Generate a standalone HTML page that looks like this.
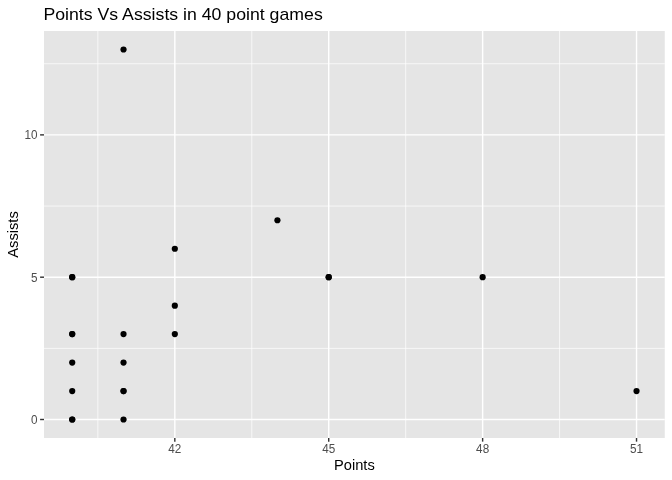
<!DOCTYPE html>
<html><head><meta charset="utf-8"><style>
html,body{margin:0;padding:0;background:#fff;width:672px;height:480px;overflow:hidden}
svg{display:block;will-change:transform;font-family:"Liberation Sans",sans-serif}
</style></head><body>
<svg width="672" height="480" viewBox="0 0 672 480">
<rect x="0" y="0" width="672" height="480" fill="#fff"/>
<rect x="44.0" y="31.0" width="620.75" height="407.00" fill="#E5E5E5"/>
<line x1="44.0" x2="664.75" y1="348.35" y2="348.35" stroke="#fff" stroke-width="0.71"/>
<line x1="44.0" x2="664.75" y1="206.04" y2="206.04" stroke="#fff" stroke-width="0.71"/>
<line x1="44.0" x2="664.75" y1="63.73" y2="63.73" stroke="#fff" stroke-width="0.71"/>
<line y1="31.0" y2="438.0" x1="97.87" x2="97.87" stroke="#fff" stroke-width="0.71"/>
<line y1="31.0" y2="438.0" x1="251.77" x2="251.77" stroke="#fff" stroke-width="0.71"/>
<line y1="31.0" y2="438.0" x1="405.68" x2="405.68" stroke="#fff" stroke-width="0.71"/>
<line y1="31.0" y2="438.0" x1="559.58" x2="559.58" stroke="#fff" stroke-width="0.71"/>
<line x1="44.0" x2="664.75" y1="419.50" y2="419.50" stroke="#fff" stroke-width="1.42"/>
<line x1="44.0" x2="664.75" y1="277.19" y2="277.19" stroke="#fff" stroke-width="1.42"/>
<line x1="44.0" x2="664.75" y1="134.88" y2="134.88" stroke="#fff" stroke-width="1.42"/>
<line y1="31.0" y2="438.0" x1="174.82" x2="174.82" stroke="#fff" stroke-width="1.42"/>
<line y1="31.0" y2="438.0" x1="328.72" x2="328.72" stroke="#fff" stroke-width="1.42"/>
<line y1="31.0" y2="438.0" x1="482.63" x2="482.63" stroke="#fff" stroke-width="1.42"/>
<line y1="31.0" y2="438.0" x1="636.53" x2="636.53" stroke="#fff" stroke-width="1.42"/>
<circle cx="72.22" cy="277.19" r="3.1" fill="#000"/>
<circle cx="72.22" cy="277.19" r="3.1" fill="#000"/>
<circle cx="72.22" cy="334.12" r="3.1" fill="#000"/>
<circle cx="72.22" cy="334.12" r="3.1" fill="#000"/>
<circle cx="72.22" cy="362.58" r="3.1" fill="#000"/>
<circle cx="72.22" cy="391.04" r="3.1" fill="#000"/>
<circle cx="72.22" cy="419.50" r="3.1" fill="#000"/>
<circle cx="72.22" cy="419.50" r="3.1" fill="#000"/>
<circle cx="123.52" cy="49.50" r="3.1" fill="#000"/>
<circle cx="123.52" cy="334.12" r="3.1" fill="#000"/>
<circle cx="123.52" cy="362.58" r="3.1" fill="#000"/>
<circle cx="123.52" cy="391.04" r="3.1" fill="#000"/>
<circle cx="123.52" cy="391.04" r="3.1" fill="#000"/>
<circle cx="123.52" cy="419.50" r="3.1" fill="#000"/>
<circle cx="174.82" cy="248.73" r="3.1" fill="#000"/>
<circle cx="174.82" cy="305.65" r="3.1" fill="#000"/>
<circle cx="174.82" cy="334.12" r="3.1" fill="#000"/>
<circle cx="277.42" cy="220.27" r="3.1" fill="#000"/>
<circle cx="328.72" cy="277.19" r="3.1" fill="#000"/>
<circle cx="328.72" cy="277.19" r="3.1" fill="#000"/>
<circle cx="482.63" cy="277.19" r="3.1" fill="#000"/>
<circle cx="636.53" cy="391.04" r="3.1" fill="#000"/>
<line x1="40.10" x2="44.0" y1="419.50" y2="419.50" stroke="#333" stroke-width="1.42"/>
<line x1="40.10" x2="44.0" y1="277.19" y2="277.19" stroke="#333" stroke-width="1.42"/>
<line x1="40.10" x2="44.0" y1="134.88" y2="134.88" stroke="#333" stroke-width="1.42"/>
<line y1="438.0" y2="441.65" x1="174.82" x2="174.82" stroke="#333" stroke-width="1.42"/>
<line y1="438.0" y2="441.65" x1="328.72" x2="328.72" stroke="#333" stroke-width="1.42"/>
<line y1="438.0" y2="441.65" x1="482.63" x2="482.63" stroke="#333" stroke-width="1.42"/>
<line y1="438.0" y2="441.65" x1="636.53" x2="636.53" stroke="#333" stroke-width="1.42"/>
<text transform="translate(37.55,423.95) scale(1.0,1.03)" text-anchor="end" font-size="11.73" fill="#4D4D4D">0</text>
<text transform="translate(37.55,281.64) scale(1.0,1.03)" text-anchor="end" font-size="11.73" fill="#4D4D4D">5</text>
<text transform="translate(37.55,139.33) scale(1.0,1.03)" text-anchor="end" font-size="11.73" fill="#4D4D4D">10</text>
<text transform="translate(174.82,453.00) scale(1.0,1.03)" text-anchor="middle" font-size="11.73" fill="#4D4D4D">42</text>
<text transform="translate(328.72,453.00) scale(1.0,1.03)" text-anchor="middle" font-size="11.73" fill="#4D4D4D">45</text>
<text transform="translate(482.63,453.00) scale(1.0,1.03)" text-anchor="middle" font-size="11.73" fill="#4D4D4D">48</text>
<text transform="translate(636.53,453.00) scale(1.0,1.03)" text-anchor="middle" font-size="11.73" fill="#4D4D4D">51</text>
<text x="354.38" y="469.7" text-anchor="middle" font-size="14.67" fill="#000">Points</text>
<text transform="translate(18.3,234.50) rotate(-90)" x="0" y="0" text-anchor="middle" font-size="14.67" fill="#000">Assists</text>
<text transform="translate(43.45,19.8) scale(1,0.98)" font-size="17.7" fill="#000">Points Vs Assists in 40 point games</text>
</svg>
</body></html>
